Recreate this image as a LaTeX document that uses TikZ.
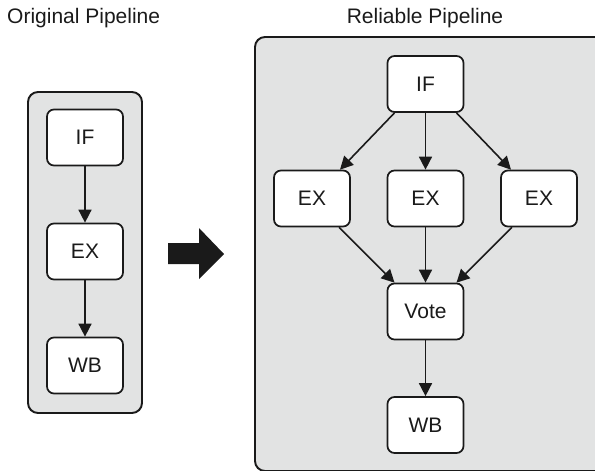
\documentclass[tikz,border=0pt]{standalone}
\usepackage{fontspec}
\setmainfont{Liberation Sans}
\usetikzlibrary{arrows.meta}
\definecolor{panelgray}{HTML}{E2E3E3}
\definecolor{ink}{HTML}{1A1A1A}
\tikzset{
  panel/.style={draw=ink, line width=1.9pt, fill=panelgray, rounded corners=10pt},
  stage/.style={draw=ink, line width=1.7pt, fill=white, rounded corners=7pt,
    minimum width=76pt, minimum height=56pt, inner sep=0pt, font=\fontsize{21}{24}\selectfont, text=ink},
  flow/.style={draw=ink, line width=1.6pt, -{Triangle[length=13pt,width=13pt]}},
  title/.style={font=\fontsize{21}{24}\selectfont, text=ink}
}
\begin{document}
\begin{tikzpicture}[x=1pt,y=-1pt]
\useasboundingbox (0,0) rectangle (595,471);
\clip (0,0) rectangle (595,471);

% titles
\node[title, anchor=west, inner sep=0pt] (t1) at (7,18) {Original Pipeline};
\node[title] (t2) at (425,18) {Reliable Pipeline};

% original pipeline
\draw[panel] (28,92) rectangle (142,413);
\node[stage] (oif) at (85,137.5) {IF};
\node[stage] (oex) at (85,251.5) {EX};
\node[stage] (owb) at (85,365.5) {WB};
\draw[flow] (oif) -- (oex);
\draw[flow] (oex) -- (owb);

% transformation arrow
\fill[ink] (168,243) -- (199,243) -- (199,228) -- (224,254) -- (199,279) -- (199,264) -- (168,264) -- cycle;

% reliable pipeline
\draw[panel] (255,37) rectangle (605,471);
\node[stage] (rif) at (425.5,84) {IF};
\node[stage] (ex1) at (312,198.5) {EX};
\node[stage] (ex2) at (425.5,198.5) {EX};
\node[stage] (ex3) at (539,198.5) {EX};
\node[stage] (vote) at (425.5,311.5) {Vote};
\node[stage] (rwb) at (425.5,425) {WB};

\draw[flow] ([xshift=-31pt]rif.south) -- ([xshift=28pt]ex1.north);
\draw[flow] (rif) -- (ex2);
\draw[flow] ([xshift=31pt]rif.south) -- ([xshift=-28pt]ex3.north);
\draw[flow] ([xshift=27pt]ex1.south) -- ([xshift=-31pt]vote.north);
\draw[flow] (ex2) -- (vote);
\draw[flow] ([xshift=-27pt]ex3.south) -- ([xshift=31pt]vote.north);
\draw[flow] (vote) -- (rwb);
\end{tikzpicture}
\end{document}
